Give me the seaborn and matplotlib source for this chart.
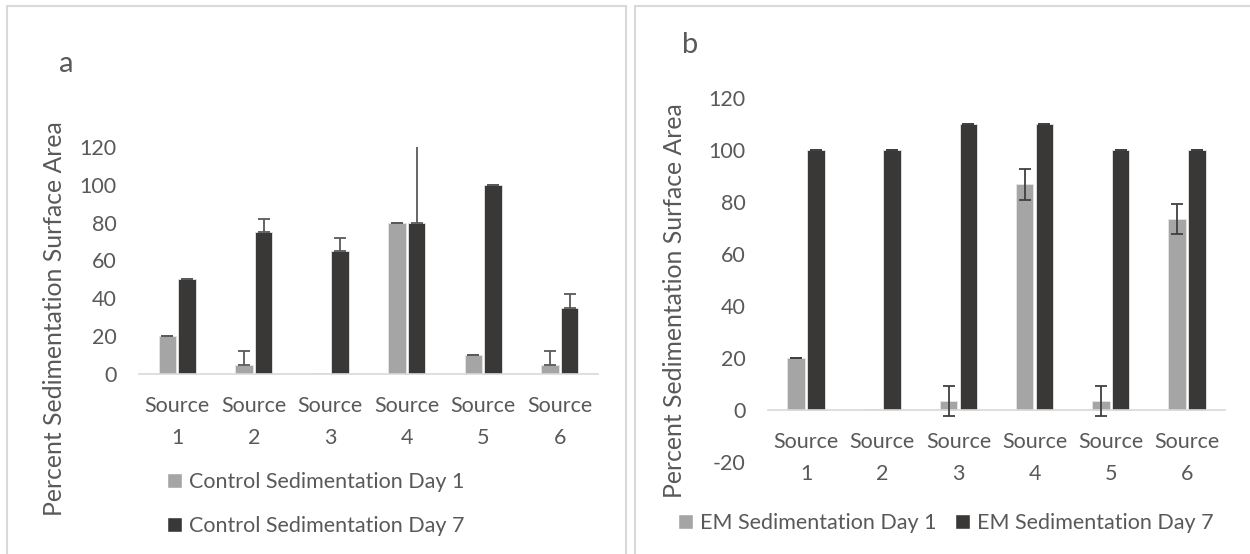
import numpy as np
import pandas as pd
import matplotlib
matplotlib.use("Agg")
import matplotlib.pyplot as plt
from matplotlib.patches import Rectangle
import seaborn as sns

# ---------------- data ----------------
sources = ["Source\n1", "Source\n2", "Source\n3", "Source\n4", "Source\n5", "Source\n6"]

ctrl_series = ["Control Sedimentation Day 1", "Control Sedimentation Day 7"]
ctrl_day1 = [20, 5, 0.3, 80, 10, 5]
ctrl_day1_err = [0, 7.1, None, 0, 0, 7.1]
ctrl_day7 = [50, 75, 65, 80, 100, 35]
ctrl_day7_err = [0, 7.1, 7.1, 45, 0, 7.1]

em_series = ["EM Sedimentation Day 1", "EM Sedimentation Day 7"]
em_day1 = [20, 0.3, 3.3, 86.7, 3.3, 73.3]
em_day1_err = [0, None, 5.8, 5.8, 5.8, 5.8]
em_day7 = [100, 100, 110, 110, 100, 100]
em_day7_err = [0, 0, 0, 0, 0, 0]

left_yticks = [0, 20, 40, 60, 80, 100, 120]
right_yticks = [-20, 0, 20, 40, 60, 80, 100, 120]

# ---------------- style ----------------
sns.set_theme(style="white")
plt.rcParams["font.family"] = ["Lato", "DejaVu Sans"]
TXT = "#595959"
LIGHT = "#A5A5A5"
DARK = "#3A3837"
FS = 15.5

fig = plt.figure(figsize=(12.5, 5.54), dpi=100)

# panel borders
for (x0, y0, w, h) in [(7, 6, 619, 560), (635, 6, 630, 560)]:
    fig.add_artist(Rectangle((x0 / 1250, 1 - (y0 + h) / 554), w / 1250, h / 554,
                             transform=fig.transFigure, fill=False,
                             edgecolor="#D9D9D9", linewidth=1.5))


def make_df(series, d1, d7):
    return pd.DataFrame({
        "source": sources * 2,
        "value": list(d1) + list(d7),
        "series": [series[0]] * len(sources) + [series[1]] * len(sources),
    })


def draw(ax, series, d1, d7, e1, e7, upper_only, ylim, yticks, ecolor):
    df = make_df(series, d1, d7)
    sns.barplot(data=df, x="source", y="value", hue="series", ax=ax,
                palette=[LIGHT, DARK], width=0.52, gap=0.12, errorbar=None,
                edgecolor="#E6E6E6", linewidth=0.6, legend=False)
    for cont, vals, errs in zip(ax.containers[:2], [d1, d7], [e1, e7]):
        pts = [(p.get_x() + p.get_width() / 2, v, e)
               for p, v, e in zip(cont.patches, vals, errs) if e is not None]
        xs = [q[0] for q in pts]
        ys = [q[1] for q in pts]
        ee = np.array([q[2] for q in pts], dtype=float)
        yerr = [np.zeros_like(ee), ee] if upper_only else ee
        ax.errorbar(xs, ys, yerr=yerr, fmt="none", ecolor=ecolor,
                    elinewidth=1.3, capsize=4.2, capthick=1.3, zorder=5)
    ax.set_ylim(*ylim)
    ax.set_xlim(-0.5, len(sources) - 0.5)
    ax.set_yticks(yticks)
    ax.set_yticklabels([str(t) for t in yticks])
    for s in ["left", "right", "top"]:
        ax.spines[s].set_visible(False)
    ax.spines["bottom"].set_color("#D9D9D9")
    ax.spines["bottom"].set_linewidth(1.2)
    ax.spines["bottom"].set_position(("data", 0))
    ax.tick_params(axis="both", length=0, colors=TXT, labelsize=FS)
    ax.tick_params(axis="y", pad=16)
    ax.tick_params(axis="x", pad=16)
    for lab in ax.get_xticklabels():
        lab.set_linespacing(1.75)
    ax.set_xlabel("")
    ax.set_ylabel("")
    ax.grid(False)
    ax.set_facecolor("none")


# left panel
axL = fig.add_axes([139 / 1250, 1 - 374 / 554, 459 / 1250, 227 / 554])
draw(axL, ctrl_series, ctrl_day1, ctrl_day7, ctrl_day1_err, ctrl_day7_err,
     True, (0, 120), left_yticks, "#595959")

# right panel
axR = fig.add_axes([768 / 1250, 1 - 461.6 / 554, 457 / 1250, 363.6 / 554])
draw(axR, em_series, em_day1, em_day7, em_day1_err, em_day7_err,
     False, (-20, 120), right_yticks, "#404040")

# y labels
fig.text(55 / 1250, 1 - 319 / 554, "Percent Sedimentation Surface Area",
         rotation=90, ha="center", va="center", fontsize=17.8, color=TXT)
fig.text(674 / 1250, 1 - 301 / 554, "Percent Sedimentation Surface Area",
         rotation=90, ha="center", va="center", fontsize=17.8, color=TXT)

# panel letters
fig.text(66 / 1250, 1 - 64 / 554, "a", ha="center", va="center", fontsize=21, color=TXT)
fig.text(690 / 1250, 1 - 45 / 554, "b", ha="center", va="center", fontsize=21, color=TXT)

# legends
hL = [Rectangle((0, 0), 1, 1, facecolor=c) for c in (LIGHT, DARK)]
fig.legend(hL, ctrl_series, loc="upper left",
           bbox_to_anchor=(167 / 1250, 1 - 472 / 554), frameon=False, ncol=1,
           fontsize=FS, labelcolor=TXT, handlelength=0.7, handleheight=0.7,
           handletextpad=0.3, labelspacing=1.1, borderaxespad=0, borderpad=0)
fig.legend(hL, em_series, loc="upper left",
           bbox_to_anchor=(678 / 1250, 1 - 513 / 554), frameon=False, ncol=2,
           fontsize=FS, labelcolor=TXT, handlelength=0.7, handleheight=0.7,
           handletextpad=0.3, columnspacing=0.9, borderaxespad=0, borderpad=0)

fig.savefig("out.png", dpi=100)
